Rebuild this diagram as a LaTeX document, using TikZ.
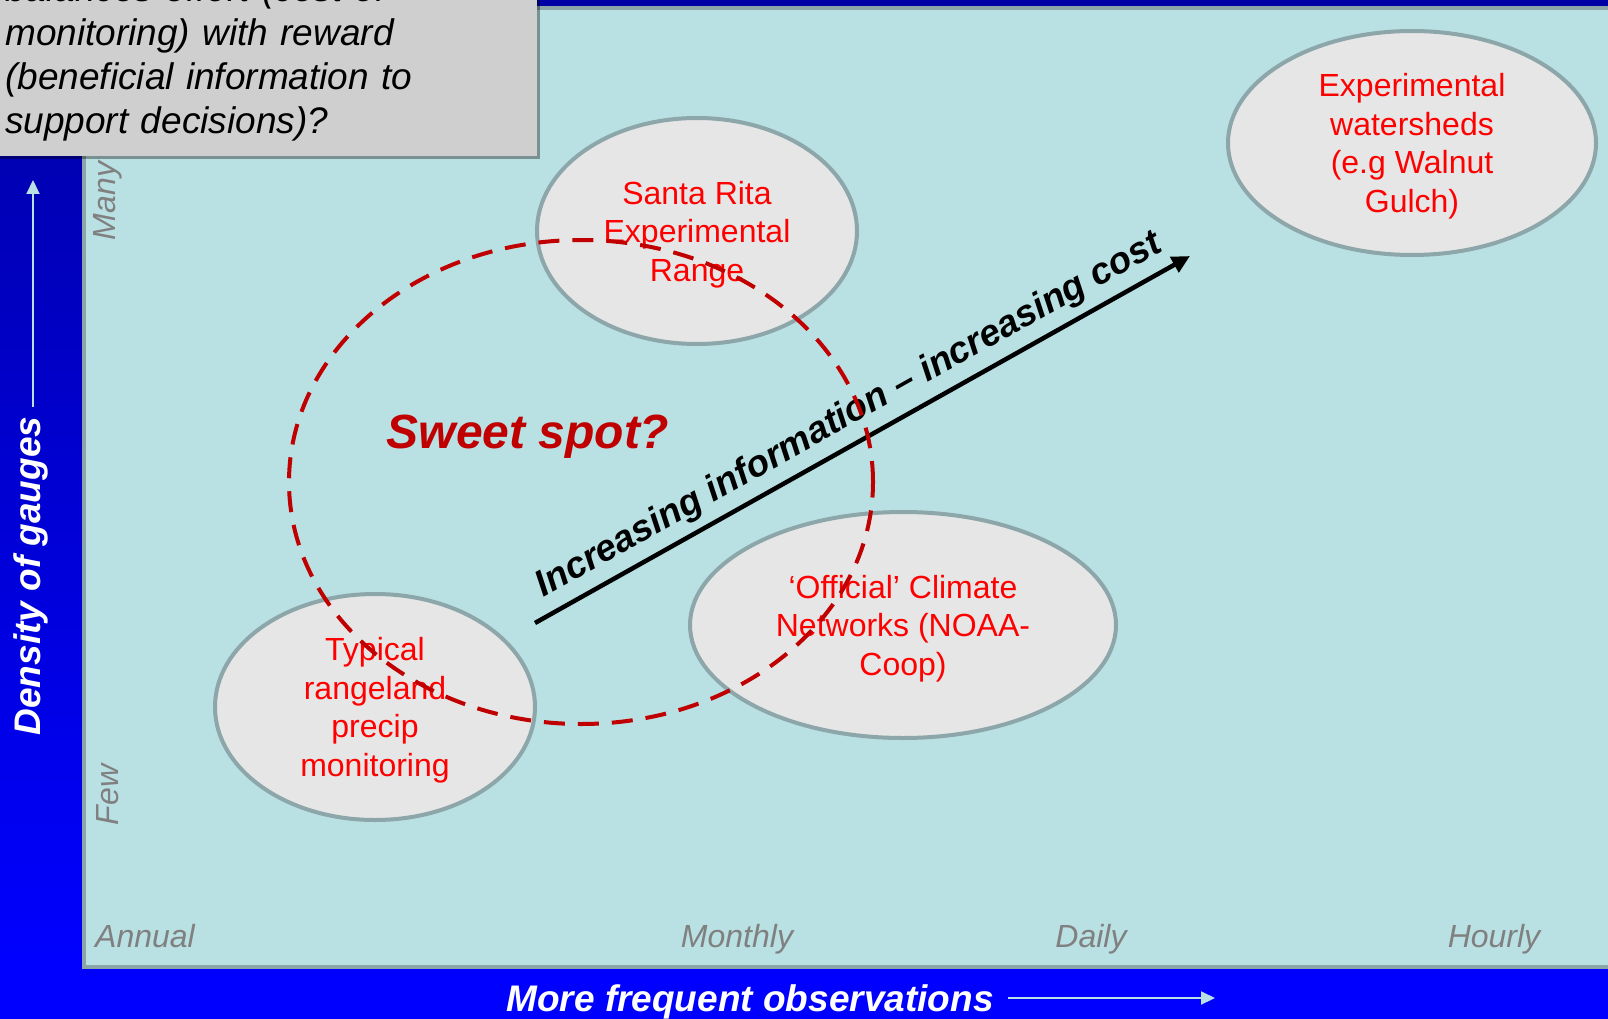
\documentclass[tikz,border=0pt]{standalone}
\usepackage{fontspec}
\setmainfont{Liberation Sans}
\usetikzlibrary{arrows.meta,shapes,shadows}

\definecolor{plotbg}{RGB}{185,224,227}
\definecolor{plotedge}{RGB}{139,165,168}
\definecolor{ovalfill}{RGB}{230,230,230}
\definecolor{ovaledge}{RGB}{140,166,170}
\definecolor{boxgray}{RGB}{207,207,207}
\definecolor{sweetred}{RGB}{192,0,0}
\definecolor{labelred}{RGB}{255,0,0}
\definecolor{tickgray}{RGB}{128,128,128}
\definecolor{deepblue}{RGB}{0,0,165}
\definecolor{brightblue}{RGB}{0,0,255}

\newcommand{\ovalfont}{\fontsize{32}{38.5}\selectfont}
\newcommand{\tickfont}{\fontsize{32}{38}\selectfont\itshape}
\newcommand{\axisfont}{\fontsize{37}{44}\selectfont\bfseries\itshape}
\newcommand{\notefont}{\fontsize{37}{43.7}\selectfont\itshape}

\tikzstyle{oval} = [ellipse, draw=ovaledge, fill=ovalfill, line width=4pt,
    inner sep=0pt, text depth=0pt, text=labelred, font=\ovalfont, align=center]
\tikzstyle{tick} = [text=tickgray, font=\tickfont, inner sep=0pt]
\tikzstyle{axistitle} = [text=white, font=\axisfont]
\tikzstyle{axisarrow} = [draw=plotbg, line width=2pt, -{Triangle[length=14pt,width=13pt]}]
\tikzstyle{sweetspot} = [ellipse, draw=sweetred, line width=4pt,
    dash pattern=on 21pt off 13pt]
\tikzstyle{trend} = [draw=black, line width=4.5pt, -{Triangle[length=18pt,width=17pt]}]

\begin{document}
\begin{tikzpicture}[x=1pt,y=-1pt]
  \path[use as bounding box,clip] (0,0) rectangle (1608,1019);

  % frame and plot area
  \fill[brightblue] (0,0) rectangle (1608,1019);
  \shade[top color=deepblue,bottom color=brightblue] (0,0) rectangle (84,968);
  \fill[deepblue] (0,0) rectangle (1608,6);
  \draw[plotedge,fill=plotbg,line width=4pt] (84,8) rectangle (1620,967);

  % question box
  \fill[boxgray,drop shadow={shadow xshift=3pt,shadow yshift=-3pt,fill=black,opacity=0.35}]
    (-10,-10) rectangle (537,156);
  \node[anchor=base west,inner sep=0pt,text width=530pt,align=left,font=\notefont]
    (question) at (5,2) {balances effort (cost of\\monitoring) with reward\\(beneficial information to\\support decisions)?};

  % axis ticks
  \node[tick,anchor=base] (annual)  at (145,947) {Annual};
  \node[tick,anchor=base] (monthly) at (737,947) {Monthly};
  \node[tick,anchor=base] (daily)   at (1091,947) {Daily};
  \node[tick,anchor=base] (hourly)  at (1494,947) {Hourly};
  \node[tick,rotate=90] (many) at (108,201) {Many};
  \node[tick,rotate=90] (few)  at (108,795) {Few};

  % axis titles
  \node[axistitle,rotate=90] (density) at (31,576) {Density of gauges};
  \coordinate (uptip) at (33,180);
  \draw[axisarrow,shorten <=6pt] (uptip |- density.east) -- (uptip);
  \node[axistitle,anchor=base] (freq) at (750,1011) {More frequent observations};
  \coordinate (righttip) at (1215,998);
  \draw[axisarrow,shorten <=11pt] (freq.east |- righttip) -- (righttip);

  % gauge networks
  \node[oval,minimum width=320pt,minimum height=226pt] (santarita) at (697,231)
    {Santa Rita\\Experimental\\Range};
  \node[oval,minimum width=368pt,minimum height=224pt] (watersheds) at (1412,143)
    {Experimental\\watersheds\\(e.g Walnut\\Gulch)};
  \node[oval,minimum width=426pt,minimum height=226pt] (noaa) at (903,625)
    {‘Official’ Climate\\Networks (NOAA-\\Coop)};
  \node[oval,minimum width=320pt,minimum height=226pt] (rangeland) at (375,707)
    {Typical\\rangeland\\precip\\monitoring};

  % information / cost trend
  \coordinate (lowinfo) at (535,623);
  \coordinate (highinfo) at (1190,256);
  \draw[trend] (lowinfo) -- node[sloped,above,pos=0.5,inner sep=8pt,font=\fontsize{37}{44}\selectfont\bfseries\itshape]
    (trendlabel) {Increasing information -- increasing cost} (highinfo);

  % sweet spot
  \node[sweetspot,minimum width=584pt,minimum height=484pt] (sweet) at (581,482) {};
  \node[text=sweetred,font=\fontsize{48}{56}\selectfont\bfseries\itshape] (sweetq) at (528,437) {Sweet spot?};
\end{tikzpicture}
\end{document}
